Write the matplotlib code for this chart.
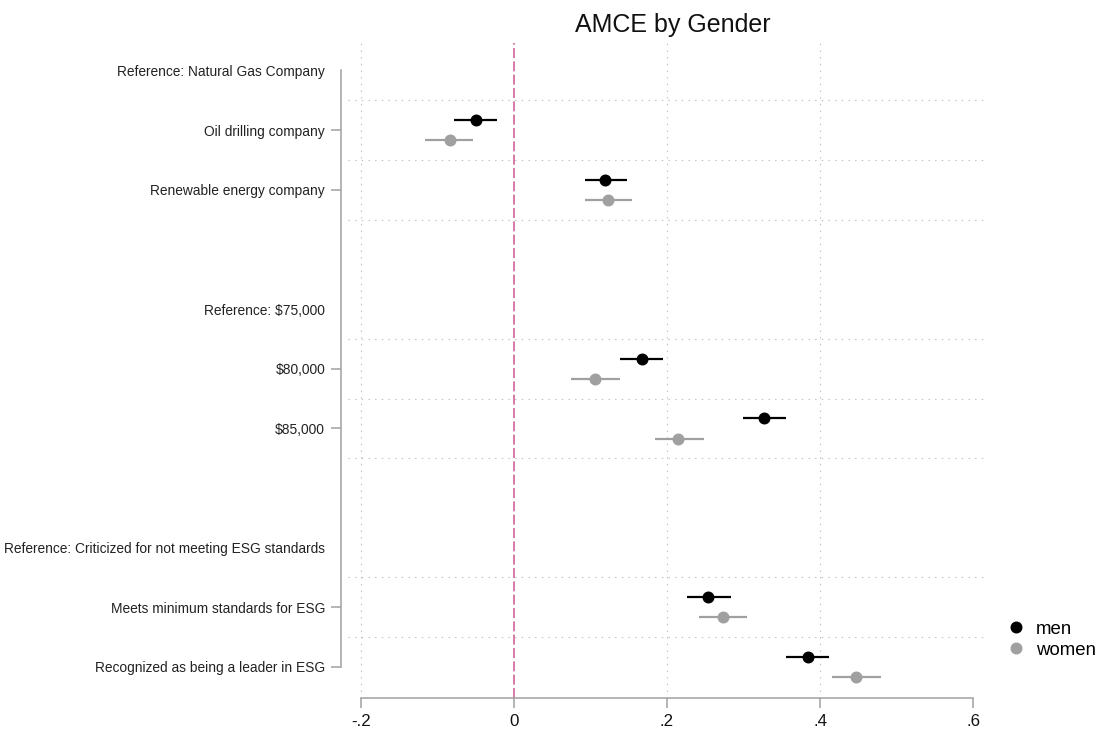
import numpy as np
import matplotlib
matplotlib.use("Agg")
import matplotlib.pyplot as plt

plt.rcParams["font.family"] = ["Liberation Sans", "DejaVu Sans"]

# Data: attribute groups (reference level + estimated levels)
group_refs = [
    "Reference: Natural Gas Company",
    "Reference: $75,000",
    "Reference: Criticized for not meeting ESG standards",
]
group_levels = [
    ["Oil drilling company", "Renewable energy company"],
    ["$80,000", "$85,000"],
    ["Meets minimum standards for ESG", "Recognized as being a leader in ESG"],
]

# AMCE estimates with 95% CI, in the order of the levels above
men_est = [-0.050, 0.119, 0.167, 0.327, 0.254, 0.384]
men_lo = [-0.078, 0.093, 0.139, 0.299, 0.226, 0.356]
men_hi = [-0.022, 0.148, 0.195, 0.356, 0.283, 0.412]

women_est = [-0.084, 0.123, 0.106, 0.214, 0.273, 0.447]
women_lo = [-0.116, 0.093, 0.075, 0.184, 0.242, 0.416]
women_hi = [-0.053, 0.154, 0.138, 0.248, 0.305, 0.480]

xticks = [-0.2, 0, 0.2, 0.4, 0.6]
xticklabels = ["-.2", "0", ".2", ".4", ".6"]

# Row positions (top to bottom, one empty row between groups)
tick_pos, tick_lab, is_ref, coef_pos, grid_pos = [], [], [], [], []
row = 0
for gi, (ref, levels) in enumerate(zip(group_refs, group_levels)):
    tick_pos.append(row); tick_lab.append(ref); is_ref.append(True)
    grid_pos.append(row + 0.5)
    row += 1
    for lev in levels:
        tick_pos.append(row); tick_lab.append(lev); is_ref.append(False)
        coef_pos.append(row)
        if gi < len(group_refs) - 1 or lev != levels[-1]:
            grid_pos.append(row + 0.5)
        row += 1
    row += 1
last_row = tick_pos[-1]
coef_pos = np.array(coef_pos, dtype=float)

off = 0.17
men_col = "black"
women_col = "#a0a0a0"
axis_col = "#a0a0a0"
grid_col = "#bcbcbc"

fig = plt.figure(figsize=(11.01, 7.40), dpi=100)
ax = fig.add_axes([348 / 1101, 42 / 740, 640 / 1101, 655 / 740])

ax.set_xlim(-0.217, 0.6196)
ax.set_ylim(last_row + 0.52, -0.46)

# grid
for g in grid_pos:
    ax.axhline(g, color=grid_col, lw=0.8, ls=(0, (1.2, 4.8)), zorder=0)
for xt in xticks[:-1]:
    if xt != 0:
        ax.axvline(xt, color=grid_col, lw=0.8, ls=(0, (1.2, 4.8)), zorder=0)

ax.axvline(0, color="#d0649c", lw=1.2, ls=(0, (6, 2)), zorder=1)

# CIs and point estimates
ax.hlines(coef_pos - off, men_lo, men_hi, color=men_col, lw=1.6, zorder=2)
ax.hlines(coef_pos + off, women_lo, women_hi, color=women_col, lw=1.6, zorder=2)
h_men, = ax.plot(men_est, coef_pos - off, "o", color=men_col, ms=7.6,
                 ls="none", label="men", zorder=3)
h_women, = ax.plot(women_est, coef_pos + off, "o", color=women_col, ms=7.6,
                   ls="none", label="women", zorder=3)

# axes styling
for s in ["top", "right"]:
    ax.spines[s].set_visible(False)
ax.spines["left"].set_position(("outward", 5))
ax.spines["left"].set_bounds(0, last_row)
ax.spines["bottom"].set_bounds(xticks[0], xticks[-1])
for s in ["left", "bottom"]:
    ax.spines[s].set_color(axis_col)
    ax.spines[s].set_linewidth(1.1)

ax.set_yticks(tick_pos)
ax.set_yticklabels(tick_lab, fontsize=9.9, color="#222222")
ax.set_xticks(xticks)
ax.set_xticklabels(xticklabels, fontsize=12.2, color="#111111")
ax.tick_params(axis="both", color=axis_col, width=1.1, length=7.2)
ax.tick_params(axis="y", pad=4.3)
ax.tick_params(axis="x", pad=4.0)
for t, ref in zip(ax.yaxis.get_major_ticks(), is_ref):
    if ref:
        t.tick1line.set_visible(False)

fig.text(673 / 1101, 708 / 740, "AMCE by Gender", ha="center", va="baseline",
         fontsize=18, color="#111111")

fig.legend(handles=[h_men, h_women], labels=["men", "women"],
           loc="upper left", bbox_to_anchor=(1006.7 / 1101, 1 - 620.5 / 740),
           frameon=False, fontsize=13.4, handlelength=1.0, handletextpad=0.575,
           borderpad=0, borderaxespad=0, labelspacing=0.22, markerscale=1.0)

fig.savefig("out.png", dpi=100)
